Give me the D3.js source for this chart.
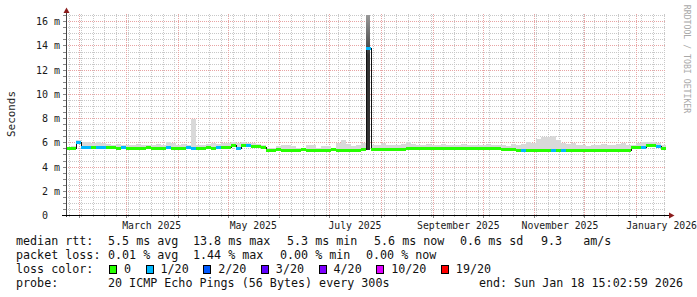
<!DOCTYPE html>
<html>
<head>
<meta charset="utf-8">
<script src="https://cdn.jsdelivr.net/npm/d3@7.9.0/dist/d3.min.js"></script>
<style>
  html, body { margin: 0; padding: 0; background: #fff; overflow: hidden; }
  svg { display: block; }
  text { font-family: "DejaVu Sans Mono", monospace; white-space: pre; }
</style>
</head>
<body>
<svg id="chart" width="697" height="297"></svg>
<script>
// Time range: last 360 days, 3-day bins
const endTime = new Date(2026, 0, 18, 15, 2, 59);
const spanDays = 360;
const binDays = 3;

// median rtt per bin (ms)
const median = [
  5.52, 5.52, 6.00, 5.64, 5.64, 5.62, 5.64, 5.64, 5.62, 5.58,
  5.57, 5.58, 5.57, 5.56, 5.57, 5.57, 5.58, 5.56, 5.57, 5.57,
  5.58, 5.57, 5.56, 5.57, 5.58, 5.57, 5.56, 5.57, 5.58, 5.57,
  5.58, 5.58, 5.62, 5.75, 5.55, 5.80, 5.80, 5.68, 5.66, 5.65,
  5.40, 5.40, 5.41, 5.40, 5.39, 5.40, 5.40, 5.41, 5.40, 5.40,
  5.39, 5.40, 5.40, 5.41, 5.40, 5.40, 5.39, 5.40, 5.40, 5.41,
  13.80, 5.47, 5.47, 5.46, 5.47, 5.47, 5.48, 5.48, 5.52, 5.52,
  5.52, 5.53, 5.52, 5.52, 5.53, 5.52, 5.52, 5.52, 5.53, 5.52,
  5.52, 5.52, 5.51, 5.50, 5.50, 5.50, 5.50, 5.49, 5.49, 5.42,
  5.40, 5.38, 5.40, 5.40, 5.39, 5.40, 5.40, 5.40, 5.40, 5.40,
  5.38, 5.38, 5.37, 5.38, 5.38, 5.37, 5.38, 5.38, 5.37, 5.38,
  5.38, 5.38, 5.38, 5.60, 5.60, 5.60, 5.76, 5.76, 5.72, 5.56
];

// highest ping per bin (top of the smoke, ms)
const smokeHi = [
  5.62, 5.70, 6.25, 6.10, 6.05, 6.00, 6.05, 5.95, 5.90, 5.85,
  5.90, 5.85, 5.80, 5.85, 5.90, 5.80, 5.85, 5.80, 5.90, 5.85,
  6.05, 5.95, 5.85, 5.90, 5.85, 8.00, 5.85, 5.80, 5.90, 5.95,
  5.90, 5.95, 6.00, 6.05, 6.00, 6.05, 6.00, 5.95, 5.90, 5.85,
  5.60, 5.60, 5.75, 5.80, 5.80, 5.75, 5.60, 5.55, 5.80, 5.85,
  5.60, 5.75, 5.70, 5.60, 5.95, 6.20, 5.90, 5.70, 5.85, 5.95,
  16.60, 5.85, 5.80, 5.95, 5.85, 5.80, 5.85, 5.90, 6.10, 5.90,
  5.85, 5.80, 5.90, 5.85, 5.80, 5.90, 5.85, 5.80, 5.85, 5.90,
  5.85, 5.80, 5.85, 5.85, 5.90, 5.85, 5.80, 5.80, 5.75, 5.90,
  5.85, 5.90, 6.10, 6.00, 6.30, 6.45, 6.50, 6.55, 6.20, 6.00,
  5.90, 5.95, 5.80, 5.85, 5.75, 5.80, 5.85, 5.90, 5.85, 5.80,
  5.90, 5.95, 5.80, 5.85, 5.95, 6.05, 6.10, 6.10, 6.00, 5.85
];

// lost pings (out of 20) per bin
const lossCount = [
  0, 0, 1, 1, 1, 0, 1, 1, 0, 0,
  0, 1, 0, 0, 0, 0, 0, 0, 0, 0,
  1, 0, 0, 0, 1, 1, 0, 0, 0, 0,
  1, 0, 0, 0, 1, 0, 1, 0, 0, 0,
  0, 0, 0, 0, 0, 0, 0, 0, 0, 0,
  0, 0, 0, 0, 0, 0, 0, 0, 0, 0,
  1, 0, 0, 0, 0, 0, 0, 0, 0, 0,
  0, 0, 0, 0, 0, 0, 0, 0, 0, 0,
  0, 0, 0, 0, 0, 0, 0, 0, 0, 0,
  0, 1, 0, 0, 0, 0, 0, 1, 0, 1,
  0, 0, 0, 0, 0, 0, 0, 0, 0, 0,
  0, 0, 0, 0, 0, 1, 0, 0, 1, 0
];

// dense (dark) smoke where the pings spread widely
const coreBins = [60];
const coreLo = [5.4];
const coreTop = [16.6];

// axis labels
const yTicks = [0, 2, 4, 6, 8, 10, 12, 14, 16];
const xLabels = ["March 2025", "May 2025", "July 2025", "September 2025", "November 2025", "January 2026"];
const xLabelMonths = ["2025-03-01", "2025-05-01", "2025-07-01", "2025-09-01", "2025-11-01", "2026-01-01"];

// loss legend
const lossSteps = [0, 1, 2, 3, 4, 10, 19];
const lossLabels = ["0", "1/20", "2/20", "3/20", "4/20", "10/20", "19/20"];
const lossColors = ["#26ff00", "#00b8ff", "#0059ff", "#5e00ff", "#7e00ff", "#dd00ff", "#ff0000"];

// statistics
const rttStats = ["5.5 ms avg", "13.8 ms max", "5.3 ms min", "5.6 ms now", "0.6 ms sd", "9.3   am/s"];
const lossStats = ["0.01 % avg", "1.44 % max", "0.00 % min", "0.00 % now"];
const probeText = "20 ICMP Echo Pings (56 Bytes) every 300s";
const endText = "end: Sun Jan 18 15:02:59 2026";

const startTime = d3.timeDay.offset(endTime, -spanDays);
const parseDay = d3.timeParse("%Y-%m-%d");

const svg = d3.select("#chart");
const x = d3.scaleTime().domain([startTime, endTime]).range([66, 666]);
const y = d3.scaleLinear().domain([0, 16.6]).range([215.5, 14.5]);

const px = (v) => Math.floor(v) + 0.5;

// bins
const bins = median.map((m, i) => ({
  t0: d3.timeDay.offset(startTime, i * binDays),
  t1: d3.timeDay.offset(startTime, (i + 1) * binDays),
  median: m,
  hi: smokeHi[i],
  loss: lossCount[i]
}));

const lossColor = (n) => {
  const idx = lossSteps.findIndex((s) => n <= s);
  return lossColors[idx < 0 ? lossColors.length - 1 : idx];
};

// gradient for the dense smoke column
const grad = svg.append("defs").append("linearGradient")
  .attr("id", "coreGrad").attr("x1", 0).attr("x2", 0).attr("y1", 0).attr("y2", 1);
grad.append("stop").attr("offset", 0).attr("stop-color", "#9a9a9a");
grad.append("stop").attr("offset", 0.22).attr("stop-color", "#555");
grad.append("stop").attr("offset", 0.3).attr("stop-color", "#333");
grad.append("stop").attr("offset", 1).attr("stop-color", "#333");

// grid
const grid = svg.append("g").attr("shape-rendering", "crispEdges");
const weeks = d3.timeSunday.range(startTime, endTime);
const months = d3.timeMonth.range(startTime, endTime);
const minorY = d3.range(0.5, 16.6, 0.5).filter((v) => v % 2 !== 0);

grid.selectAll(".vmin").data(weeks).join("line")
  .attr("x1", (d) => px(x(d))).attr("x2", (d) => px(x(d)))
  .attr("y1", 14).attr("y2", 215)
  .attr("stroke", "#c8c8c8").attr("stroke-dasharray", "1,1");
grid.selectAll(".hmin").data(minorY).join("line")
  .attr("x1", 66).attr("x2", 666)
  .attr("y1", (d) => px(y(d))).attr("y2", (d) => px(y(d)))
  .attr("stroke", "#c8c8c8").attr("stroke-dasharray", "1,1");
grid.selectAll(".vmaj").data(months).join("line")
  .attr("x1", (d) => px(x(d))).attr("x2", (d) => px(x(d)))
  .attr("y1", 14).attr("y2", 215)
  .attr("stroke", "#e8a4a4").attr("stroke-dasharray", "1,1");
grid.selectAll(".hmaj").data(yTicks.filter((v) => v > 0)).join("line")
  .attr("x1", 66).attr("x2", 666)
  .attr("y1", (d) => px(y(d))).attr("y2", (d) => px(y(d)))
  .attr("stroke", "#e8a4a4").attr("stroke-dasharray", "1,1");

// smoke
const plot = svg.append("g").attr("shape-rendering", "crispEdges");
plot.selectAll(".smoke").data(bins.filter((d, i) => !coreBins.includes(i))).join("rect")
  .attr("x", (d) => x(d.t0)).attr("width", (d) => x(d.t1) - x(d.t0))
  .attr("y", (d) => y(d.hi)).attr("height", (d) => y(d.median) - y(d.hi))
  .attr("fill", "#d9d9d9");

plot.selectAll(".core").data(coreBins).join("rect")
  .attr("x", (d) => Math.round(x(bins[d].t0)))
  .attr("width", (d) => Math.round(x(bins[d].t1) - x(bins[d].t0)) - 1)
  .attr("y", (d, i) => y(coreTop[i]))
  .attr("height", (d, i) => y(coreLo[i]) - y(coreTop[i]))
  .attr("fill", "url(#coreGrad)");

// dark median line (shows on steps)
const lineData = bins.map((d) => [d.t0, d.median]).concat([[endTime, median[median.length - 1]]]);
plot.append("path")
  .datum(lineData)
  .attr("d", d3.line().x((d) => x(d[0])).y((d) => y(d[1])).curve(d3.curveStepAfter))
  .attr("fill", "none").attr("stroke", "#111").attr("stroke-width", 1);

// median band coloured by loss
plot.selectAll(".band").data(bins).join("rect")
  .attr("x", (d) => x(d.t0)).attr("width", (d) => x(d.t1) - x(d.t0))
  .attr("y", (d) => y(d.median) - 1.5).attr("height", 3)
  .attr("fill", (d) => lossColor(d.loss));

// axes
const axes = svg.append("g").attr("shape-rendering", "crispEdges");
axes.selectAll(".ytick").data(minorY.concat(yTicks.filter((v) => v > 0))).join("line")
  .attr("x1", 63).attr("x2", 66)
  .attr("y1", (d) => px(y(d))).attr("y2", (d) => px(y(d)))
  .attr("stroke", "#888");
axes.selectAll(".xtick").data(months).join("line")
  .attr("x1", (d) => px(x(d))).attr("x2", (d) => px(x(d)))
  .attr("y1", 215).attr("y2", 218)
  .attr("stroke", "#888");
axes.selectAll(".xtickw").data(weeks).join("line")
  .attr("x1", (d) => px(x(d))).attr("x2", (d) => px(x(d)))
  .attr("y1", 215).attr("y2", 217)
  .attr("stroke", "#bbb");
axes.append("line").attr("x1", 66.5).attr("x2", 66.5).attr("y1", 217).attr("y2", 12)
  .attr("stroke", "#444");
axes.append("line").attr("x1", 62).attr("x2", 670).attr("y1", 215.5).attr("y2", 215.5)
  .attr("stroke", "#000");
svg.append("path").attr("d", "M66.5,7.5 L69.5,13 L63.5,13 Z").attr("fill", "#8b1c1c");
svg.append("path").attr("d", "M674.5,215.5 L669,212.5 L669,218.5 Z").attr("fill", "#8b1c1c");

// y labels
svg.append("g").selectAll("text").data(yTicks).join("text")
  .attr("x", 60).attr("y", (d) => y(d))
  .attr("dy", "0.35em")
  .attr("text-anchor", "end")
  .attr("font-size", 10).attr("fill", "#1a1a1a")
  .text((d) => (d === 0 ? "0  " : `${d} m`));

// x labels (centred in the middle of the month)
svg.append("g").selectAll("text").data(xLabels).join("text")
  .attr("x", (d, i) => x(d3.timeDay.offset(parseDay(xLabelMonths[i]), 15)))
  .attr("y", 228.5)
  .attr("text-anchor", "middle")
  .attr("font-size", 9.8).attr("fill", "#1a1a1a")
  .text((d) => d);

// unit
svg.append("text")
  .attr("transform", "translate(11,114) rotate(-90)")
  .attr("text-anchor", "middle").attr("dy", "0.35em")
  .attr("font-size", 10.9).attr("fill", "#222")
  .text("Seconds");

// watermark
svg.append("text")
  .attr("transform", "translate(687,59) rotate(90)")
  .attr("text-anchor", "middle").attr("dy", "0.35em")
  .attr("font-size", 8.2).attr("fill", "#a8a8a8")
  .text("RRDTOOL / TOBI OETIKER");

// legend
const legend = svg.append("g").attr("font-size", 11.7).attr("fill", "#111");
const row = (yb, label) => legend.append("text").attr("x", 16).attr("y", yb).text(label);

row(245, "median rtt:");
const rttX = [108, 193, 287, 374, 460, 541];
legend.selectAll(".rtt").data(rttStats).join("text")
  .attr("x", (d, i) => rttX[i]).attr("y", 245).text((d) => d);

row(259, "packet loss:");
const lossX = [108, 193, 280, 366];
legend.selectAll(".pl").data(lossStats).join("text")
  .attr("x", (d, i) => lossX[i]).attr("y", 259).text((d) => d);

row(273, "loss color:");
let cx = 109;
lossLabels.forEach((lab, i) => {
  legend.append("rect")
    .attr("x", cx + 0.5).attr("y", 265.5).attr("width", 7).attr("height", 8)
    .attr("fill", lossColors[i]).attr("stroke", "#000").attr("stroke-width", 1)
    .attr("shape-rendering", "crispEdges");
  const t = legend.append("text").attr("x", cx + 15).attr("y", 273).text(lab);
  cx = cx + 15 + t.node().getComputedTextLength() + 14.5;
});

row(287, "probe:");
legend.append("text").attr("x", 108).attr("y", 287).text(probeText);
legend.append("text").attr("x", 683).attr("y", 287).attr("text-anchor", "end").text(endText);
</script>
</body>
</html>
